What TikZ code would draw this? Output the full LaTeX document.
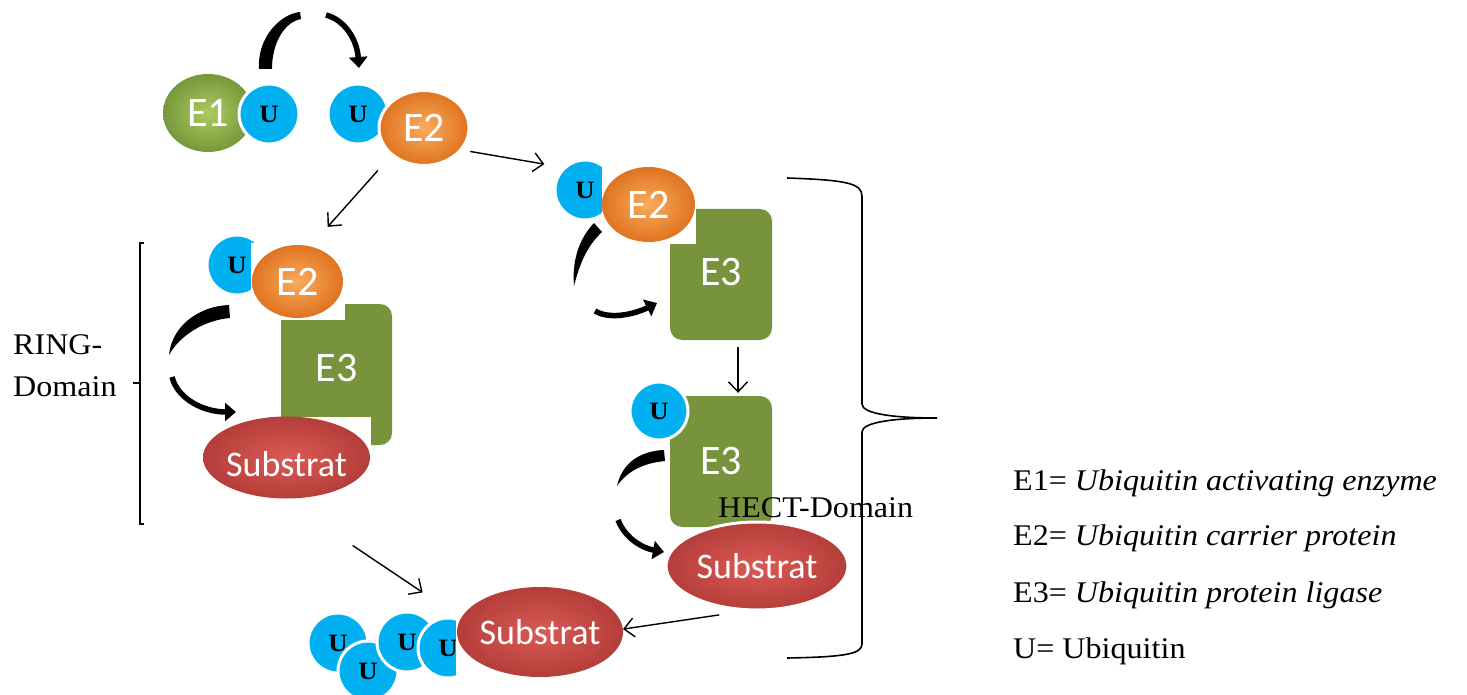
\documentclass[tikz,border=0pt]{standalone}
\usepackage{fontspec}
\setmainfont{Liberation Serif}[FakeStretch=1.07]
\newfontfamily\calibrifont{Carlito}
\usetikzlibrary{shapes.geometric,arrows.meta}

\definecolor{ublue}{HTML}{00B0F0}
\definecolor{eonelight}{HTML}{ABCB62}
\definecolor{eonedark}{HTML}{76983A}
\definecolor{etwolight}{HTML}{FAAB5E}
\definecolor{etwodark}{HTML}{DF7320}
\definecolor{ethree}{HTML}{77933C}
\definecolor{sublight}{HTML}{DA5A55}
\definecolor{subdark}{HTML}{B53E3A}

\newcommand\subst{\makebox[0pt]{Substrat}}

\begin{document}
\begin{tikzpicture}[x=1pt,y=-1pt,
	ubq/.style={circle,fill=ublue,draw=white,line width=3pt,minimum size=60pt,inner sep=0pt,font=\fontsize{25}{25}\selectfont\bfseries},
	blob/.style={ellipse,inner sep=0pt,text=white,font=\calibrifont\fontsize{42}{42}\selectfont},
	enzone/.style={blob,inner color=eonelight,outer color=eonedark,minimum width=90pt,minimum height=78pt},
	enztwo/.style={blob,inner color=etwolight,outer color=etwodark,minimum width=90pt,minimum height=75pt},
	ligase/.style={rectangle,fill=ethree,rounded corners=12pt,text=white,font=\calibrifont\fontsize{42}{42}\selectfont,minimum width=102pt,minimum height=131pt,inner sep=0pt},
	substrat/.style={blob,inner color=sublight,outer color=subdark,font=\calibrifont\fontsize{36}{36}\selectfont},
	conn/.style={line width=1.4pt,-{Straight Barb[length=10pt,width=19pt]}},
	curlarrow/.style={line width=5.5pt,-{Triangle[length=11pt,width=18pt]}},
	plaintext/.style={font=\fontsize{30}{42}\selectfont,inner sep=0pt}]
	\useasboundingbox (0,0) rectangle (1467,695);

	% E1 hands U over to E2
	\node[enzone] (eone) at (208,113) {E1};
	\node[ubq] (uone) at (269,114) {U};
	\node[ubq] (utwo) at (358,114) {U};
	\node[enztwo,draw=white,line width=3pt] (etwo) at (424,128) {E2};
	\fill (259,69) .. controls (257,38) and (280,14) .. (300,12) -- (301,19) .. controls (285,22) and (272,42) .. (272,69) -- cycle;
	\draw[curlarrow] (326,15) .. controls (345,20) and (357,40) .. (359,68);

	% RING branch
	\node[ligase,text depth=14pt,minimum width=111pt,minimum height=141pt] (ethreer) at (336.5,374.5) {E3};
	\node[ubq] (ur) at (237,265) {U};
	\fill[white] (251,243) rectangle (345,320);
	\node[enztwo,minimum width=91pt,minimum height=73pt] (etwor) at (297.5,281.5) {E2};
	\fill[white] (202,417) rectangle (371,500);
	\node[substrat,text height=38pt,minimum width=167pt,minimum height=82pt] (subr) at (286.5,457.5) {\subst};
	\fill (229,305) .. controls (200,306) and (172,325) .. (169,355) .. controls (180,335) and (205,320) .. (230,318) -- cycle;
	\draw[curlarrow] (172,377) .. controls (178,400) and (205,412) .. (236,412);
	\draw[line width=1.6pt] (144,243) -- (140,243) -- (140,524) -- (144,524) (140,383) -- (133,383);
	\node[plaintext,anchor=north west,align=left] (ring) at (13,334) {RING-\\Domain};

	% HECT branch
	\node[ubq] (uh) at (585,190) {U};
	\node[ligase,text depth=5pt] (ethreeh) at (721,274.5) {E3};
	\fill[white] (602,165) rectangle (696,244);
	\node[enztwo,minimum width=93pt,minimum height=75pt] (etwoh) at (648.5,204.5) {E2};
	\fill (594,223) .. controls (578,240) and (572,262) .. (574,286) .. controls (580,262) and (588,245) .. (602,232) -- cycle;
	\draw[curlarrow] (595,311) .. controls (610,320) and (635,314) .. (657,303);

	\node[ligase] (ethreel) at (721,461.5) {E3};
	\node[ubq,minimum size=58pt] (ul) at (659,411) {U};
	\node[substrat,draw=white,line width=3pt,minimum width=182pt,minimum height=88pt] (subh) at (757,566) {\subst};
	\fill (664,450) .. controls (640,451) and (622,463) .. (617,486) .. controls (628,470) and (645,463) .. (665,461) -- cycle;
	\draw[curlarrow] (618,520) .. controls (625,538) and (642,548) .. (664,552);
	\node[plaintext,anchor=base west] (hect) at (718,517) {HECT-Domain};

	% poly-ubiquitinated substrate
	\node[ubq] (ca) at (338,643) {U};
	\node[ubq] (cb) at (368,671) {U};
	\node[ubq] (cc) at (407,642) {U};
	\node[ubq] (cd) at (448,648) {U};
	\fill[white] (456,584) rectangle (625,682);
	\node[substrat,minimum width=166pt,minimum height=90pt] (subb) at (540,632) {\subst};

	\draw[conn,shorten <=20pt,shorten >=26pt] (etwo.220) -- (etwor.70);
	\draw[conn,shorten <=8pt,shorten >=19pt] (etwo.330) -- (uh.134);
	\draw[conn,shorten <=7pt,shorten >=3pt] ([xshift=17pt]ethreeh.south) -- ([xshift=17pt]ethreel.north);
	\draw[conn,shorten <=84pt,shorten >=46pt] (subr.265) -- (subb.170);
	\draw[conn,shorten <=26pt] (subh.255) -- (subb.2);

	\draw[line width=1.6pt] (787,178) .. controls (845,180) and (862,183) .. (862,196) -- (862,404) .. controls (862,414) and (895,418) .. (937,418)
		.. controls (895,418) and (862,422) .. (862,432) -- (862,644) .. controls (862,654) and (845,657) .. (787,658);

	% key
	\node[plaintext,anchor=base west] (keyone) at (1013,490) {E1= \textit{Ubiquitin activating enzyme}};
	\node[plaintext,anchor=base west] (keytwo) at (1013,545) {E2= \textit{Ubiquitin carrier protein}};
	\node[plaintext,anchor=base west] (keythree) at (1013,602) {E3= \textit{Ubiquitin protein ligase}};
	\node[plaintext,anchor=base west] (keyfour) at (1013,658) {U= Ubiquitin};
\end{tikzpicture}
\end{document}
